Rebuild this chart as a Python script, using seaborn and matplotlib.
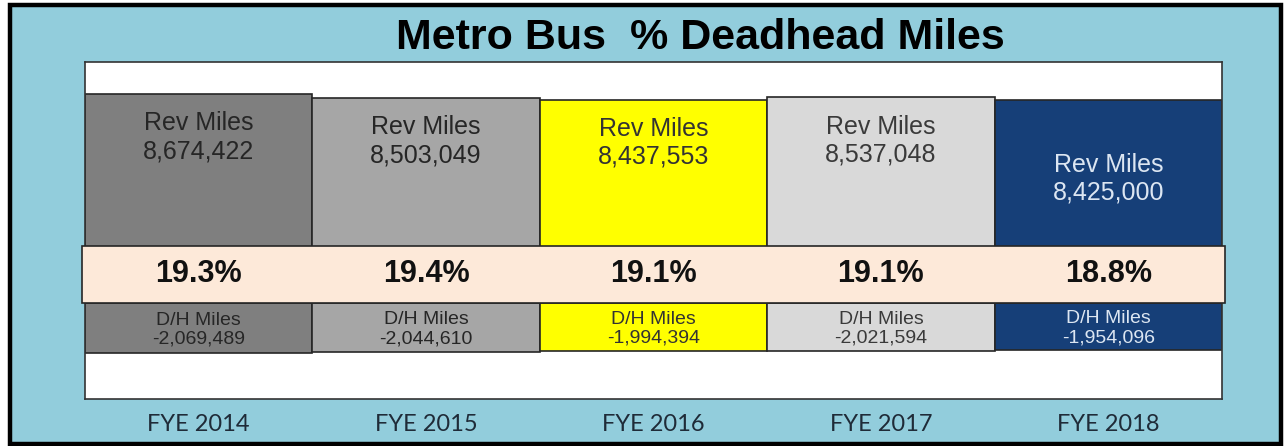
import matplotlib
matplotlib.use('Agg')
import matplotlib.pyplot as plt
import matplotlib.transforms as mtransforms
from matplotlib.patches import Rectangle
import seaborn as sns
import pandas as pd

# data
years = ['FYE 2014', 'FYE 2015', 'FYE 2016', 'FYE 2017', 'FYE 2018']
rev_miles = [8674422, 8503049, 8437553, 8537048, 8425000]
dh_miles = [-2069489, -2044610, -1994394, -2021594, -1954096]

# styling
bar_colors = ['#7f7f7f', '#a6a6a6', '#ffff00', '#d9d9d9', '#163f78']
text_colors = ['#262626', '#262626', '#333333', '#3a3a3a', '#dce6f2']
rev_label_drop = [0.72e6, 0.72e6, 0.72e6, 0.72e6, 2.2e6]
band_top = 2.36e6
bg_blue = '#92cddc'
peach = '#fde9d9'
edge = '#262626'

df = pd.DataFrame({'year': years, 'rev': rev_miles, 'dh': dh_miles})
df['pct'] = -df['dh'] / (df['rev'] - df['dh']) * 100

sns.set_theme(style='white')
plt.rcParams['font.family'] = ['Liberation Sans', 'DejaVu Sans']

fig = plt.figure(figsize=(12.85, 4.46), dpi=100, facecolor='white')
# light blue panel with black frame, kept behind the axes
fig.patches.append(Rectangle((10 / 1285, 2 / 446), 1271 / 1285, 439 / 446,
                             transform=fig.transFigure, facecolor=bg_blue,
                             edgecolor='black', linewidth=3.2, zorder=-5))

ax = fig.add_axes([85 / 1285, 1 - 399 / 446, 1137 / 1285, 337 / 446])
ax.set_zorder(2)
ax.set_facecolor('white')

sns.barplot(data=df, x='year', y='rev', hue='year', palette=bar_colors,
            width=1.0, saturation=1, edgecolor=edge, linewidth=1.2,
            legend=False, ax=ax)
sns.barplot(data=df, x='year', y='dh', hue='year', palette=bar_colors,
            width=1.0, saturation=1, edgecolor=edge, linewidth=1.2,
            legend=False, ax=ax)

ax.set_ylim(-4e6, 10e6)
ax.set_xlim(-0.5, len(years) - 0.5)
ax.set_yticks([])
ax.set_xlabel('')
ax.set_ylabel('')
ax.tick_params(axis='x', length=0, pad=11)
for lab in ax.get_xticklabels():
    lab.set_fontfamily(['Lato', 'DejaVu Sans'])
    lab.set_fontsize(17)
    lab.set_color('#1f2b38')
for sp in ax.spines.values():
    sp.set_color('#333333')
    sp.set_linewidth(1.2)

# peach band holding the percentages
trans = mtransforms.blended_transform_factory(ax.transAxes, ax.transData)
ax.add_patch(Rectangle((-0.003, 0), 1.006, band_top, transform=trans,
                       facecolor=peach, edgecolor=edge, linewidth=1.2,
                       clip_on=False, zorder=5))

for i, row in df.iterrows():
    ax.text(i, row['rev'] - rev_label_drop[i], f"Rev Miles\n{row['rev']:,}",
            ha='center', va='top', fontsize=18, color=text_colors[i],
            linespacing=1.2, zorder=6)
    ax.text(i, band_top / 2, f"{row['pct']:.1f}%", ha='center', va='center',
            fontsize=22, fontweight='bold', color='#111111', zorder=6)
    ax.text(i, row['dh'] / 2 - 0.08e6, f"D/H Miles\n{row['dh']:,}",
            ha='center', va='center', fontsize=14, color=text_colors[i],
            linespacing=1.15, zorder=6)

fig.text(700 / 1285, 1 - 38 / 446, 'Metro Bus  % Deadhead Miles',
         ha='center', va='center', fontsize=31, fontweight='bold',
         color='black')

fig.savefig('out.png', dpi=100, facecolor='white')
